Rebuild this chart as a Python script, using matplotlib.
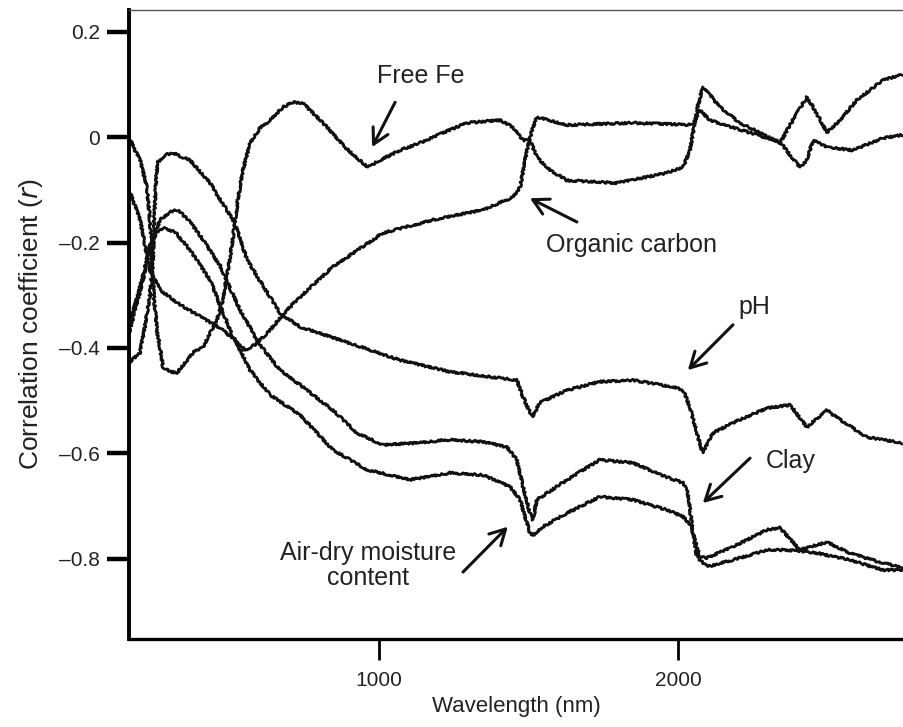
import matplotlib
matplotlib.use("Agg")
import matplotlib.pyplot as plt

plt.rcParams['font.family'] = ['Liberation Sans', 'DejaVu Sans']

# Correlation of soil properties with reflectance, per wavelength (nm)
free_fe_wl = [164, 184, 201, 224, 234, 241, 248, 258, 278, 301, 325, 378, 411, 458, 478, 495,
              512, 528, 545, 569, 602, 636, 679, 712, 746, 786, 836, 886, 936, 963, 1003, 1070,
              1137, 1214, 1294, 1405, 1448, 1482, 1505, 1528, 1572, 1629, 1796, 1963, 2017,
              2040, 2050, 2067, 2083, 2107, 2140, 2207, 2274, 2341, 2375, 2408, 2431, 2458,
              2498, 2542, 2598, 2642, 2685, 2749]
free_fe_r = [0.0, -0.025, -0.044, -0.095, -0.157, -0.233, -0.309, -0.366, -0.436, -0.445,
             -0.447, -0.409, -0.398, -0.347, -0.309, -0.252, -0.190, -0.119, -0.063, -0.011,
             0.017, 0.032, 0.057, 0.066, 0.064, 0.042, 0.013, -0.019, -0.044, -0.057, -0.044,
             -0.025, -0.011, 0.008, 0.027, 0.032, 0.019, -0.006, -0.006, -0.038, -0.063,
             -0.082, -0.087, -0.068, -0.057, -0.025, 0.008, 0.061, 0.095, 0.080, 0.057, 0.027,
             0.008, -0.011, 0.023, 0.055, 0.076, 0.051, 0.009, 0.032, 0.070, 0.089, 0.108, 0.118]

carbon_wl = [164, 201, 234, 268, 335, 401, 468, 518, 552, 585, 636, 686, 736, 846, 1013, 1181,
             1348, 1448, 1472, 1495, 1515, 1528, 1629, 1849, 2050, 2073, 2107, 2241, 2341,
             2375, 2408, 2431, 2451, 2498, 2585, 2685, 2749]
carbon_r = [-0.100, -0.157, -0.252, -0.290, -0.318, -0.340, -0.362, -0.385, -0.404, -0.394,
            -0.366, -0.332, -0.303, -0.246, -0.182, -0.157, -0.138, -0.114, -0.095, -0.025,
            0.019, 0.038, 0.023, 0.027, 0.023, 0.051, 0.032, 0.008, -0.009, -0.034, -0.057,
            -0.044, -0.006, -0.019, -0.025, -0.002, 0.004]

ph_wl = [164, 201, 217, 234, 244, 251, 258, 284, 311, 368, 435, 518, 559, 669, 736, 903, 1070,
         1237, 1405, 1461, 1482, 1512, 1538, 1629, 1739, 1849, 1983, 2017, 2040, 2063, 2083,
         2117, 2184, 2298, 2375, 2431, 2498, 2542, 2632, 2749]
ph_r = [-0.428, -0.409, -0.360, -0.300, -0.233, -0.119, -0.049, -0.034, -0.030, -0.044,
        -0.087, -0.163, -0.233, -0.334, -0.360, -0.391, -0.423, -0.445, -0.457, -0.461,
        -0.493, -0.531, -0.504, -0.480, -0.464, -0.461, -0.474, -0.480, -0.512, -0.561,
        -0.599, -0.561, -0.542, -0.514, -0.508, -0.550, -0.518, -0.536, -0.569, -0.580]

clay_wl = [164, 191, 211, 224, 241, 268, 301, 328, 368, 401, 468, 535, 602, 669, 736, 846, 926,
           1013, 1127, 1237, 1348, 1428, 1461, 1482, 1505, 1515, 1528, 1629, 1739, 1849, 1963,
           2017, 2033, 2050, 2073, 2097, 2184, 2298, 2341, 2408, 2498, 2575, 2685, 2749]
clay_r = [-0.372, -0.315, -0.271, -0.233, -0.195, -0.157, -0.142, -0.138, -0.161, -0.186,
          -0.243, -0.328, -0.394, -0.442, -0.470, -0.518, -0.561, -0.584, -0.580, -0.574,
          -0.578, -0.588, -0.612, -0.663, -0.713, -0.726, -0.688, -0.650, -0.612, -0.618,
          -0.645, -0.656, -0.675, -0.751, -0.796, -0.798, -0.777, -0.745, -0.741, -0.783,
          -0.768, -0.789, -0.808, -0.815]

moist_wl = [164, 194, 217, 234, 258, 284, 318, 368, 435, 502, 569, 636, 736, 846, 960, 1104,
            1237, 1348, 1438, 1472, 1505, 1515, 1548, 1629, 1739, 1849, 1963, 2017, 2047, 2063,
            2097, 2184, 2298, 2365, 2465, 2575, 2685, 2749]
moist_r = [-0.356, -0.300, -0.248, -0.205, -0.180, -0.173, -0.180, -0.214, -0.271, -0.366,
           -0.442, -0.489, -0.527, -0.593, -0.631, -0.650, -0.637, -0.641, -0.663, -0.688,
           -0.751, -0.755, -0.739, -0.713, -0.682, -0.688, -0.707, -0.720, -0.739, -0.796,
           -0.815, -0.802, -0.783, -0.783, -0.789, -0.802, -0.821, -0.821]

yticks = [0.2, 0, -0.2, -0.4, -0.6, -0.8]
yticklabels = ['0.2', '0', '\u20130.2', '\u20130.4', '\u20130.6', '\u20130.8']
xticks = [1000, 2000]

fig = plt.figure(figsize=(9.04, 7.27), dpi=100)
ax = fig.add_axes([0.1427, 0.1210, 0.8573, 0.8652])

series = [(free_fe_wl, free_fe_r), (carbon_wl, carbon_r), (ph_wl, ph_r),
          (clay_wl, clay_r), (moist_wl, moist_r)]
for wl, r in series:
    line, = ax.plot(wl, r, color='#111111', lw=2.0, solid_joinstyle='round')
    line.set_sketch_params(scale=1.0, length=3, randomness=4)

ax.set_xlim(164, 2756)
ax.set_ylim(-0.952, 0.241)

ax.spines['right'].set_visible(False)
ax.spines['top'].set_linewidth(1.0)
ax.spines['top'].set_color('#555555')
ax.spines['left'].set_linewidth(2.8)
ax.spines['bottom'].set_linewidth(2.4)

ax.set_yticks(yticks)
ax.set_yticklabels(yticklabels)
ax.set_xticks(xticks)
ax.tick_params(axis='y', direction='out', length=16, width=3.2, pad=5, labelsize=15,
               labelcolor='#222222')
ax.tick_params(axis='x', direction='out', length=15, width=2.0, pad=8, labelsize=15,
               labelcolor='#222222')

ax.set_xlabel('Wavelength (nm)', fontsize=16, color='#222222', labelpad=4)
ax.set_ylabel('Correlation coefficient ($\\it{r}$)', fontsize=19, color='#222222', labelpad=10)

# labels with arrows pointing at each curve
notes = [
    ('Free Fe', (1140, 0.116), (1054, 0.066), (977, -0.019)),
    ('Organic carbon', (1843, -0.205), (1662, -0.161), (1505, -0.116)),
    ('pH', (2257, -0.322), (2184, -0.356), (2033, -0.442)),
    ('Clay', (2378, -0.614), (2241, -0.609), (2083, -0.694)),
    ('Air-dry moisture\ncontent', (963, -0.813), (1281, -0.825), (1431, -0.739)),
]
for text, pos, tail, tip in notes:
    ax.text(pos[0], pos[1], text, fontsize=18, color='#222222', ha='center', va='center',
            linespacing=1.05)
    ax.annotate('', xy=tip, xytext=tail,
                arrowprops=dict(arrowstyle='->,head_length=0.55,head_width=0.3',
                                mutation_scale=20, lw=2.2, color='#111111',
                                shrinkA=0, shrinkB=0))

fig.savefig('out.png', dpi=100)
